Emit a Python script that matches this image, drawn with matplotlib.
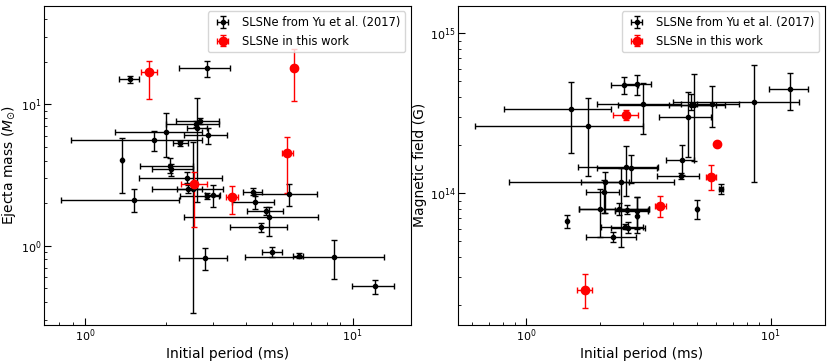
import numpy as np
import matplotlib
matplotlib.use('Agg')
import matplotlib.pyplot as plt

# ---- left panel: Yu et al. (2017), period (ms) vs ejecta mass (Msun)
yu_p = [1.47, 2.85, 1.375, 1.52, 1.80, 2.00, 2.265, 2.87, 2.59, 2.62, 2.68, 2.07, 2.085, 2.40, 2.43,
        2.535, 2.84, 3.00, 4.23, 4.31, 4.74, 4.86, 4.55, 5.76, 5.01, 6.28, 8.54, 12.08, 2.81]
yu_p_lo = [1.34, 2.24, 1.375, 0.81, 0.884, 1.29, 2.134, 2.345, 2.00, 2.40, 2.18, 1.60, 1.78, 1.58, 1.78,
           2.20, 2.25, 2.80, 3.87, 3.55, 4.01, 2.33, 3.46, 4.31, 4.59, 6.00, 3.96, 9.91, 2.24]
yu_p_hi = [1.59, 3.46, 1.375, 2.23, 2.72, 2.72, 2.41, 3.40, 3.15, 2.85, 3.17, 2.535, 2.535, 3.23, 3.28,
           2.73, 3.15, 3.20, 4.59, 5.08, 5.47, 7.44, 5.66, 7.38, 5.43, 6.54, 13.14, 14.24, 3.40]
yu_m = [15.0, 18.0, 4.04, 2.10, 5.59, 6.41, 5.30, 6.03, 7.30, 6.80, 7.66, 3.68, 3.49, 3.01, 2.53,
        2.53, 2.25, 2.28, 2.41, 2.03, 1.77, 1.60, 1.35, 2.33, 0.902, 0.845, 0.831, 0.516, 0.818]
yu_m_lo = [14.2, 15.6, 2.35, 1.73, 4.65, 4.26, 5.10, 5.21, 6.95, 2.05, 7.26, 3.25, 3.13, 2.76, 2.35,
           0.336, 2.15, 1.89, 2.28, 1.81, 1.65, 1.18, 1.26, 1.92, 0.836, 0.814, 0.578, 0.455, 0.673]
yu_m_hi = [15.9, 20.3, 5.75, 2.50, 6.51, 8.64, 5.47, 6.76, 7.66, 11.09, 7.96, 4.19, 3.76, 3.34, 2.69,
           5.41, 2.37, 2.69, 2.55, 2.25, 1.89, 1.89, 1.44, 2.73, 0.984, 0.883, 1.10, 0.572, 0.957]

# ---- right panel: Yu et al. (2017), period (ms) vs B (1e14 G)
yu2_p = [1.472, 1.524, 1.795, 2.51, 2.84, 3.01, 4.57, 4.72, 4.85, 5.77, 8.55, 12.04, 4.32, 4.28, 6.28,
         5.02, 2.55, 2.68, 2.09, 2.43, 2.07, 2.00, 2.40, 2.58, 2.84, 2.85, 2.54, 2.61, 2.27]
yu2_p_lo = [1.472, 0.810, 0.618, 2.21, 2.51, 1.94, 3.49, 2.375, 3.84, 5.01, 3.97, 9.87, 3.73, 3.44, 6.18,
            5.02, 1.63, 1.95, 0.849, 1.68, 1.75, 1.64, 1.64, 2.30, 2.30, 2.85, 2.03, 2.21, 1.75]
yu2_p_hi = [1.472, 2.23, 2.99, 2.87, 3.25, 4.30, 5.68, 6.54, 6.00, 7.44, 13.11, 14.26, 4.85, 5.08, 6.38,
            5.02, 3.46, 3.43, 4.03, 2.64, 2.39, 3.18, 3.18, 3.15, 3.15, 2.85, 3.01, 3.07, 2.82]
yu2_b = [0.672, 3.38, 2.62, 4.73, 4.82, 3.63, 2.99, 3.55, 3.55, 3.63, 3.74, 4.47, 1.62, 1.28, 1.065,
         0.798, 1.45, 1.44, 1.18, 1.18, 1.014, 0.794, 0.802, 0.79, 0.776, 0.721, 0.619, 0.607, 0.531]
yu2_b_lo = [0.610, 1.78, 1.28, 4.16, 4.12, 2.35, 1.68, 3.30, 1.58, 2.61, 1.17, 3.32, 1.30, 1.22, 0.99,
            0.688, 0.96, 1.155, 0.75, 0.464, 0.75, 0.529, 0.73, 0.74, 0.60, 0.562, 0.60, 0.56, 0.494]
yu2_b_hi = [0.733, 4.96, 3.96, 5.31, 5.52, 4.92, 4.32, 4.16, 5.55, 4.69, 6.33, 5.62, 1.99, 1.34, 1.14,
            0.91, 1.96, 1.74, 1.36, 1.43, 1.21, 1.06, 0.87, 0.84, 0.95, 0.944, 0.64, 0.66, 0.57]

# ---- this work
our_p = [1.734, 6.05, 5.70, 2.55, 3.53]
our_p_lo = [1.618, 6.05, 5.44, 2.27, 3.36]
our_p_hi = [1.858, 6.05, 5.98, 2.86, 3.72]
our_m = [16.84, 18.07, 4.50, 2.73, 2.22]
our_m_lo = [10.85, 10.56, 2.35, 1.36, 1.69]
our_m_hi = [20.1, 24.5, 5.84, 3.34, 2.64]
our_b = [0.250, 2.03, 1.26, 3.07, 0.829]
our_b_lo = [0.191, 2.03, 1.05, 2.87, 0.714]
our_b_hi = [0.313, 2.03, 1.49, 3.29, 0.960]


def errs(v, lo, hi):
    v, lo, hi = np.array(v), np.array(lo), np.array(hi)
    return [v - lo, hi - v]


fig = plt.figure(figsize=(8.3, 3.61), dpi=100)
ax1 = fig.add_axes([0.053, 0.0997, 0.442, 0.885])
ax2 = fig.add_axes([0.552, 0.0997, 0.4418, 0.885])

kw_k = dict(fmt='o', color='k', ms=3, capsize=2, elinewidth=1, capthick=1)
kw_r = dict(fmt='o', color='red', ms=6, capsize=2, elinewidth=1, capthick=1)

ax1.errorbar(yu_p, yu_m, xerr=errs(yu_p, yu_p_lo, yu_p_hi), yerr=errs(yu_m, yu_m_lo, yu_m_hi),
             label='SLSNe from Yu et al. (2017)', **kw_k)
ax1.errorbar(our_p, our_m, xerr=errs(our_p, our_p_lo, our_p_hi), yerr=errs(our_m, our_m_lo, our_m_hi),
             label='SLSNe in this work', **kw_r)

b = np.array(yu2_b) * 1e14
ax2.errorbar(yu2_p, b, xerr=errs(yu2_p, yu2_p_lo, yu2_p_hi),
             yerr=errs(b, np.array(yu2_b_lo) * 1e14, np.array(yu2_b_hi) * 1e14),
             label='SLSNe from Yu et al. (2017)', **kw_k)
ob = np.array(our_b) * 1e14
ax2.errorbar(our_p, ob, xerr=errs(our_p, our_p_lo, our_p_hi),
             yerr=errs(ob, np.array(our_b_lo) * 1e14, np.array(our_b_hi) * 1e14),
             label='SLSNe in this work', **kw_r)

for ax in (ax1, ax2):
    ax.set_xscale('log')
    ax.set_yscale('log')
    ax.tick_params(which='both', direction='in', labelsize=8, pad=2)
    ax.tick_params(which='major', length=5)
    ax.tick_params(which='minor', length=2.5)
    ax.set_xlabel('Initial period (ms)', fontsize=10, labelpad=2)
    ax.legend(loc='upper right', fontsize=8.3, handlelength=1.8)

ax1.set_xlim(0.70, 16.5)
ax1.set_ylim(0.275, 50)
ax1.set_ylabel(r'Ejecta mass ($M_{\odot}$)', fontsize=10, labelpad=2)

ax2.set_xlim(0.525, 16.7)
ax2.set_ylim(1.5e13, 1.49e15)
ax2.set_ylabel('Magnetic field (G)', fontsize=10, labelpad=2)

fig.savefig('out.png', dpi=100)
